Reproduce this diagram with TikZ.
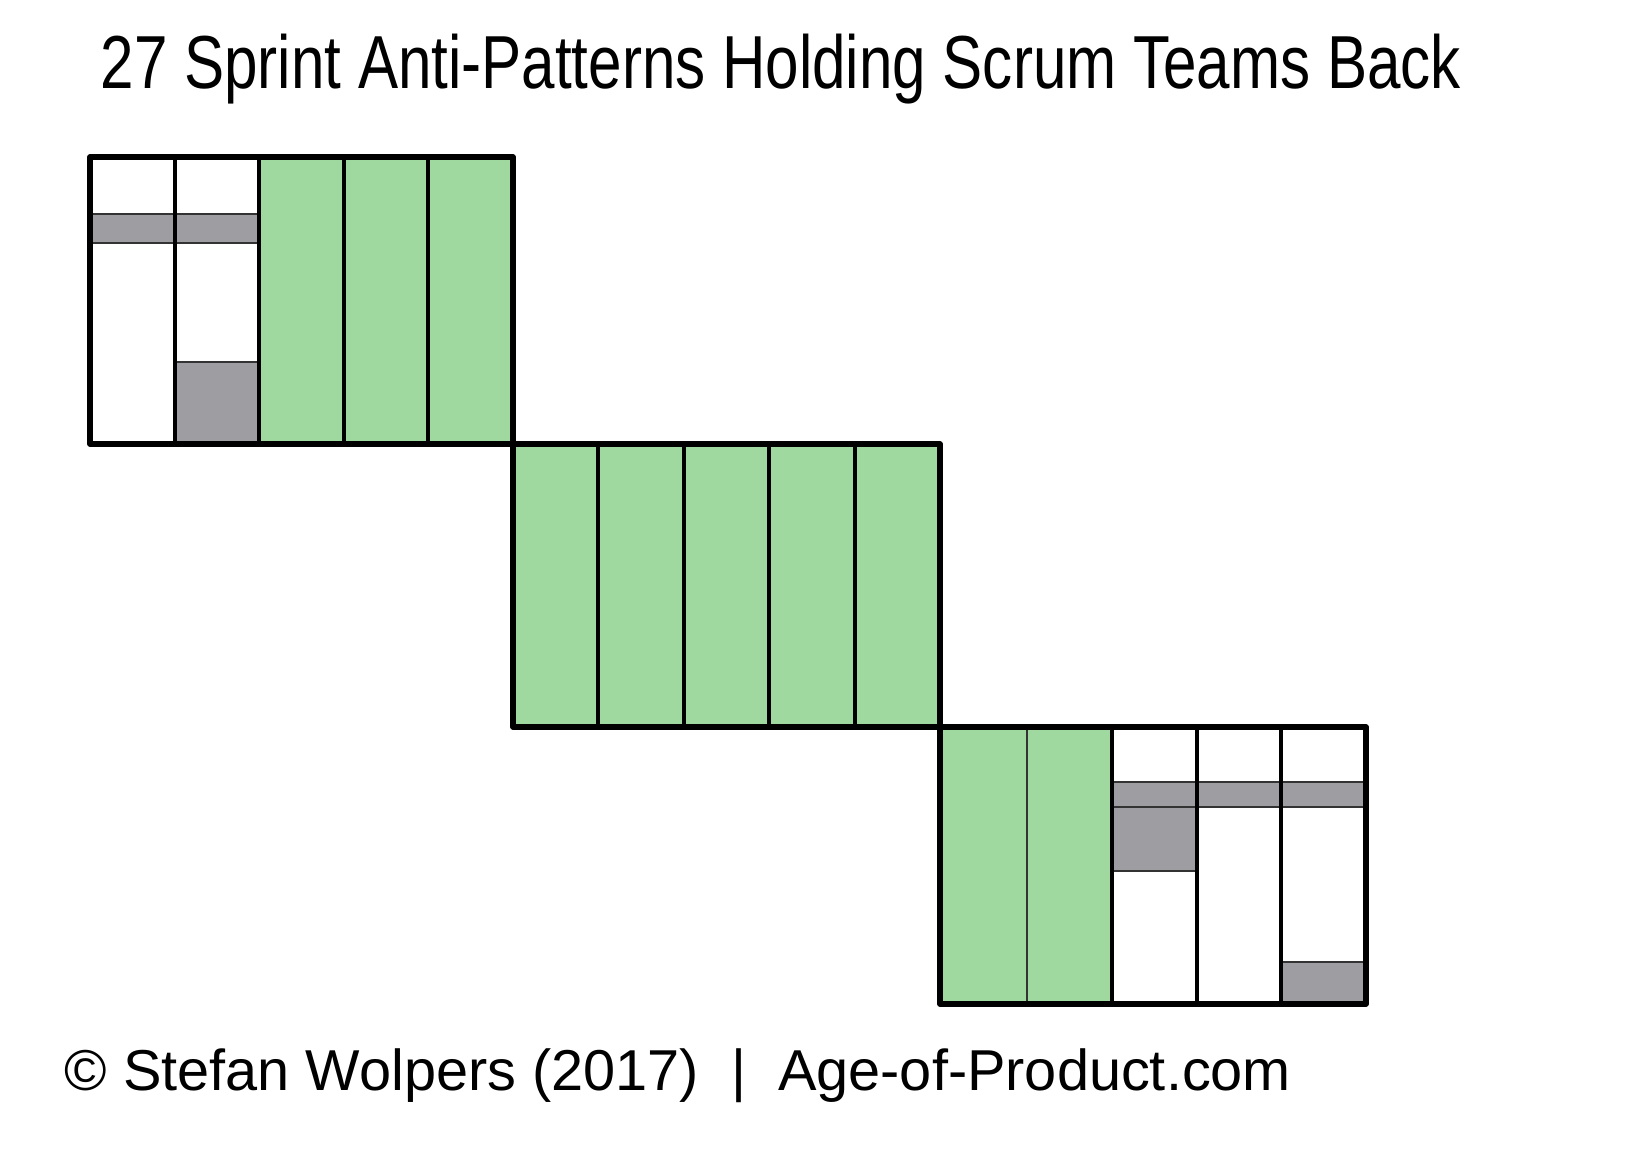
\documentclass[tikz,border=0pt]{standalone}
\usepackage{fontspec}
\setmainfont{Liberation Sans}
\usepackage{tikz}
\usetikzlibrary{positioning}
\definecolor{crayongreen}{RGB}{160,217,160}
\definecolor{crayongray}{RGB}{158,158,162}

\begin{document}
\begin{tikzpicture}[x=0.01cm,y=-0.01cm,
  frame/.style={line width=1.5pt,line join=round},
  divider/.style={line width=1.2pt},
  thin line/.style={line width=0.4pt,draw=black!80}]
  \tikzstyle{done} = [fill=crayongreen]
  \tikzstyle{blocked} = [fill=crayongray,thin line]
  \useasboundingbox (0,0) rectangle (1650,1157);
  \node (title) [anchor=base west,inner sep=0pt] at (100,88)
    {\fontsize{17.1}{20}\selectfont\scalebox{1}[1.25]{27 Sprint Anti-Patterns Holding Scrum Teams Back}};

  % first sprint
  \fill[done] (259,157) rectangle (513,444);
  \filldraw[blocked] (90,214) rectangle (259,243);
  \filldraw[blocked] (175,362) rectangle (259,444);
  \foreach \x in {175,259,344,428} \draw[divider] (\x,157) -- (\x,444);
  \draw[frame] (90,157) rectangle (513,444);

  % second sprint
  \fill[done] (513,444) rectangle (940,727);
  \foreach \x in {598,684,769,855} \draw[divider] (\x,444) -- (\x,727);
  \draw[frame] (513,444) rectangle (940,727);

  % third sprint
  \fill[done] (940,727) rectangle (1112,1004);
  \draw[thin line] (1027,727) -- (1027,1004);
  \filldraw[blocked] (1112,782) rectangle (1366,807);
  \filldraw[blocked] (1112,807) rectangle (1197,871);
  \filldraw[blocked] (1281,962) rectangle (1366,1004);
  \foreach \x in {1112,1197,1281} \draw[divider] (\x,727) -- (\x,1004);
  \draw[frame] (940,727) rectangle (1366,1004);

  \node (credit) [anchor=base west,inner sep=0pt] at (64,1090)
    {\fontsize{16.4}{19}\selectfont\textcopyright\ Stefan Wolpers (2017) \ | \ Age-of-Product.com};
\end{tikzpicture}
\end{document}
